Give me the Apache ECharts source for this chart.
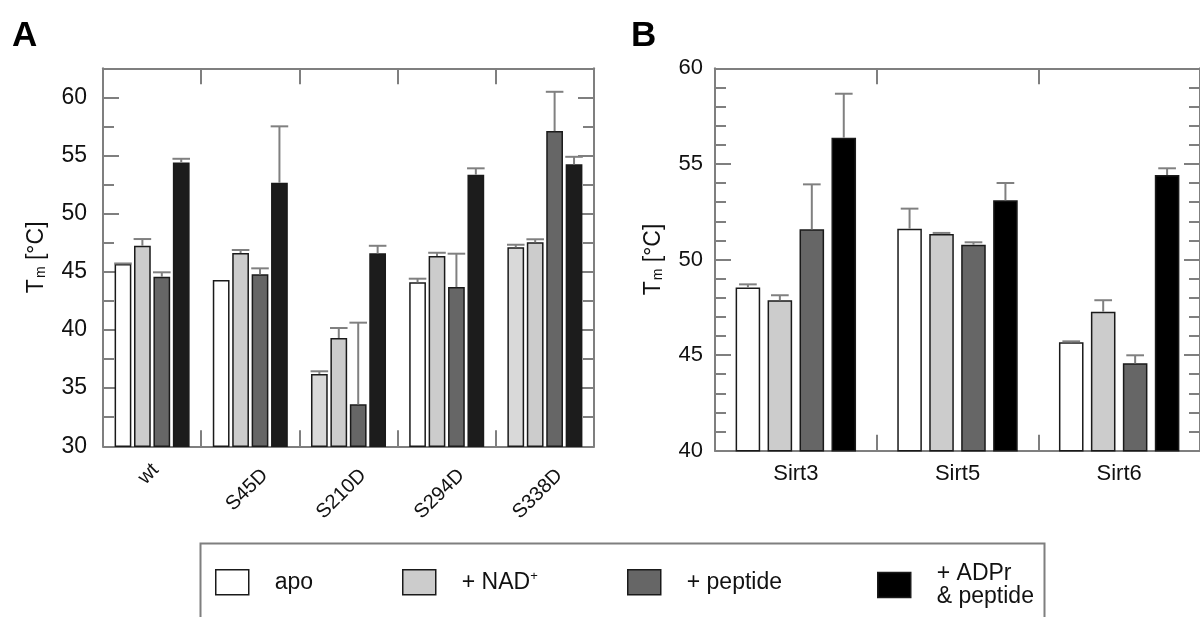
<!DOCTYPE html>
<html>
<head>
<meta charset="utf-8">
<script src="https://cdn.jsdelivr.net/npm/echarts@6/dist/echarts.min.js"></script>
<style>
  html, body { margin: 0; padding: 0; background: #fff; }
  #chart { width: 1200px; height: 617px; }
</style>
</head>
<body>
<div id="chart"></div>
<script>
// ---- Panel A: phospho-mimetic variants (melting temperature, °C) ----
const mutantCategories = ['wt', 'S45D', 'S210D', 'S294D', 'S338D'];
const mutantApo = [45.67, 44.30, 36.22, 44.10, 47.11];
const mutantApoErr = [0.05, 0, 0.23, 0.31, 0.22];
const mutantNad = [47.24, 46.62, 39.31, 46.36, 47.54];
const mutantNadErr = [0.58, 0.26, 0.86, 0.28, 0.26];
const mutantPeptide = [44.58, 44.79, 33.61, 43.69, 57.10];
const mutantPeptideErr = [0.38, 0.51, 7.02, 2.87, 3.38];
const mutantAdprPeptide = [54.41, 52.66, 46.59, 53.35, 54.24];
const mutantAdprPeptideErr = [0.31, 4.85, 0.65, 0.55, 0.65];
// apo bars drawn with a light tint in these variants
const tintedApo = ['S210D', 'S338D'];

// ---- Panel B: sirtuin isoforms ----
const sirtCategories = ['Sirt3', 'Sirt5', 'Sirt6'];
const sirtApo = [48.53, 51.61, 45.67];
const sirtApoErr = [0.17, 1.05, 0.05];
const sirtNad = [47.87, 51.33, 47.27];
const sirtNadErr = [0.26, 0.06, 0.60];
const sirtPeptide = [51.58, 50.77, 44.57];
const sirtPeptideErr = [2.35, 0.13, 0.42];
const sirtAdprPeptide = [56.37, 53.10, 54.42];
const sirtAdprPeptideErr = [2.30, 0.90, 0.35];

// ---- axis ranges ----
const mutantAxisRange = [30, 62.5];
const sirtAxisRange = [40, 60];

const seriesNames = ['apo', '+ NAD+', '+ peptide', '+ ADPr\n& peptide'];

const FONT = "'Liberation Sans', Arial, Helvetica, sans-serif";
const TEXT = '#111';
const GRAY = '#7f7f7f';
const EDGE = '#1a1a1a';
const fillA = ['#ffffff', '#cccccc', '#666666', '#1c1c1c'];
const fillB = ['#ffffff', '#cccccc', '#666666', '#000000'];
const tintFill = '#d9d9d9';

const frameLine = { color: GRAY, width: 2 };

const layoutA = { count: 4, categoryGap: 0.236, barGap: 0.16, cap: 1.05 };
const layoutB = { count: 4, categoryGap: 0.255, barGap: 0.30, cap: 0.72 };

function catAxis(grid, data, position, label) {
  return {
    type: 'category', gridIndex: grid, data: data, position: position,
    boundaryGap: true,
    axisLine: { show: true, onZero: false, lineStyle: frameLine },
    axisTick: { show: true, inside: true, length: 16, lineStyle: frameLine },
    axisLabel: label || { show: false },
    splitLine: { show: false }
  };
}

function valAxis(grid, position, range, interval, tickLen, opts) {
  return Object.assign({
    type: 'value', gridIndex: grid, position: position,
    min: range[0], max: range[1], interval: interval,
    axisLine: { show: true, onZero: false, lineStyle: frameLine },
    axisTick: { show: true, inside: true, length: tickLen, lineStyle: frameLine },
    axisLabel: { show: false },
    splitLine: { show: false }
  }, opts || {});
}

const axisName = '{t|T}{s|m}{t| [°C]}';
function nameStyle(size) {
  return {
    color: TEXT, fontFamily: FONT, fontSize: size,
    rich: {
      t: { fontSize: size, fontFamily: FONT, color: TEXT },
      s: { fontSize: Math.round(size * 0.62), fontFamily: FONT, color: TEXT, verticalAlign: 'bottom', padding: [0, 0, 0, 1] }
    }
  };
}

function barSeries(name, xi, yi, values, fill, layout, tintIdx) {
  return {
    type: 'bar', name: name, xAxisIndex: xi, yAxisIndex: yi,
    barCategoryGap: (layout.categoryGap * 100) + '%',
    barGap: (layout.barGap * 100) + '%',
    itemStyle: { color: fill, borderColor: EDGE, borderWidth: 1.5 },
    emphasis: { disabled: true },
    data: values.map(function (v, i) {
      if (tintIdx && tintIdx.indexOf(i) >= 0) {
        return { value: v, itemStyle: { color: tintFill } };
      }
      return v;
    }),
    z: 2
  };
}

function errorSeries(name, xi, yi, values, errs, slot, layout) {
  return {
    type: 'custom', name: name + ' (sd)', xAxisIndex: xi, yAxisIndex: yi,
    silent: true, z: 5,
    data: values.map(function (v, i) { return [i, v, errs[i]]; }),
    encode: { x: 0, y: 1 },
    renderItem: function (params, api) {
      const i = api.value(0), v = api.value(1), e = api.value(2);
      if (!(e > 0)) return null;
      const band = api.size([1, 0])[0];
      const group = band * (1 - layout.categoryGap);
      const bw = group / (layout.count + (layout.count - 1) * layout.barGap);
      const base = api.coord([i, v]);
      const x = base[0] - group / 2 + slot * bw * (1 + layout.barGap) + bw / 2;
      const yTop = api.coord([i, v + e])[1];
      const hw = bw * layout.cap / 2;
      const st = { stroke: '#808080', lineWidth: 2 };
      return {
        type: 'group',
        children: [
          { type: 'line', shape: { x1: x, y1: base[1], x2: x, y2: yTop }, style: st },
          { type: 'line', shape: { x1: x - hw, y1: yTop, x2: x + hw, y2: yTop }, style: st }
        ]
      };
    }
  };
}

const tintIdx = tintedApo.map(function (c) { return mutantCategories.indexOf(c); });

const valuesA = [mutantApo, mutantNad, mutantPeptide, mutantAdprPeptide];
const errsA = [mutantApoErr, mutantNadErr, mutantPeptideErr, mutantAdprPeptideErr];
const valuesB = [sirtApo, sirtNad, sirtPeptide, sirtAdprPeptide];
const errsB = [sirtApoErr, sirtNadErr, sirtPeptideErr, sirtAdprPeptideErr];

const series = [];
seriesNames.forEach(function (n, k) {
  series.push(barSeries(n, 0, 0, valuesA[k], fillA[k], layoutA, k === 0 ? tintIdx : null));
});
seriesNames.forEach(function (n, k) {
  series.push(errorSeries(n, 0, 0, valuesA[k], errsA[k], k, layoutA));
});
seriesNames.forEach(function (n, k) {
  series.push(barSeries(n, 2, 4, valuesB[k], fillB[k], layoutB, null));
});
seriesNames.forEach(function (n, k) {
  series.push(errorSeries(n, 2, 4, valuesB[k], errsB[k], k, layoutB));
});

const legendFill = ['#ffffff', '#cccccc', '#666666', '#000000'];
const legendLeft = [215, 402, 627, 877];
const legendTop = [569, 569, 569, 562];
const legends = seriesNames.map(function (n, k) {
  return {
    left: legendLeft[k], top: legendTop[k], padding: 0,
    icon: 'rect', itemWidth: 33, itemHeight: 25,
    selectedMode: false,
    data: [{ name: n, itemStyle: { color: legendFill[k], borderColor: EDGE, borderWidth: 1.5 } }],
    formatter: function (name) {
      if (name === '+ NAD+') return '{a|+ NAD}{b|+}';
      return name;
    },
    textStyle: {
      color: TEXT, fontFamily: FONT, fontSize: 23, lineHeight: 23,
      padding: [0, 0, 0, 21],
      rich: {
        a: { fontSize: 23, fontFamily: FONT, color: TEXT, lineHeight: 24 },
        b: { fontSize: 13, fontFamily: FONT, color: TEXT, verticalAlign: 'top', lineHeight: 14 }
      }
    }
  };
});

// rotated category labels; 'wt' is short and sits closer to its tick
const catLabelRich = {
  n: { fontSize: 20, fontFamily: FONT, color: TEXT, lineHeight: 41 },
  w: { fontSize: 20, fontFamily: FONT, color: TEXT, lineHeight: 18, padding: [0, 4, 0, 0] }
};

const option = {
  backgroundColor: '#ffffff',
  animation: false,
  textStyle: { fontFamily: FONT },
  grid: [
    { left: 103, top: 68.3, width: 491, height: 378 },
    { left: 715, top: 68.3, width: 495, height: 382.4 }
  ],
  xAxis: [
    catAxis(0, mutantCategories, 'bottom', {
      show: true, interval: 0, rotate: 45, fontSize: 20, color: TEXT, fontFamily: FONT,
      margin: 11.5, verticalAlign: 'top',
      formatter: function (v) { return v === 'wt' ? '{w|' + v + '}' : '{n|' + v + '}'; },
      rich: catLabelRich
    }),
    catAxis(0, mutantCategories, 'top'),
    catAxis(1, sirtCategories, 'bottom', {
      show: true, interval: 0, fontSize: 22, color: TEXT, fontFamily: FONT, margin: 12
    }),
    catAxis(1, sirtCategories, 'top')
  ],
  yAxis: [
    valAxis(0, 'left', mutantAxisRange, 5, 16, {
      axisLabel: { show: true, fontSize: 23, color: TEXT, fontFamily: FONT, margin: 16, showMaxLabel: false },
      name: axisName, nameLocation: 'middle', nameRotate: 90, nameGap: 55,
      nameTextStyle: nameStyle(23)
    }),
    valAxis(0, 'left', mutantAxisRange, 2.5, 11, { axisLine: { show: false } }),
    valAxis(0, 'right', mutantAxisRange, 5, 16),
    valAxis(0, 'right', mutantAxisRange, 2.5, 11, { axisLine: { show: false } }),
    valAxis(1, 'left', sirtAxisRange, 5, 16, {
      axisLabel: { show: true, fontSize: 22, color: TEXT, fontFamily: FONT, margin: 12 },
      minorTick: { show: true, splitNumber: 5, length: 11, lineStyle: frameLine },
      name: axisName, nameLocation: 'middle', nameRotate: 90, nameGap: 50,
      nameTextStyle: nameStyle(23)
    }),
    valAxis(1, 'right', sirtAxisRange, 5, 16, {
      minorTick: { show: true, splitNumber: 5, length: 11, lineStyle: frameLine }
    })
  ],
  legend: legends,
  graphic: [
    { type: 'text', left: 12, top: 19, style: { text: 'A', fontSize: 35, fontWeight: 'bold', fontFamily: FONT, fill: '#000' } },
    { type: 'text', left: 631, top: 19, style: { text: 'B', fontSize: 35, fontWeight: 'bold', fontFamily: FONT, fill: '#000' } },
    { type: 'rect', left: 198, top: 541, shape: { width: 844, height: 120 }, style: { fill: 'none', stroke: GRAY, lineWidth: 2 }, z: -1 }
  ],
  series: series
};

const chart = echarts.init(document.getElementById('chart'), null, { renderer: 'canvas' });
chart.setOption(option);
</script>
</body>
</html>
